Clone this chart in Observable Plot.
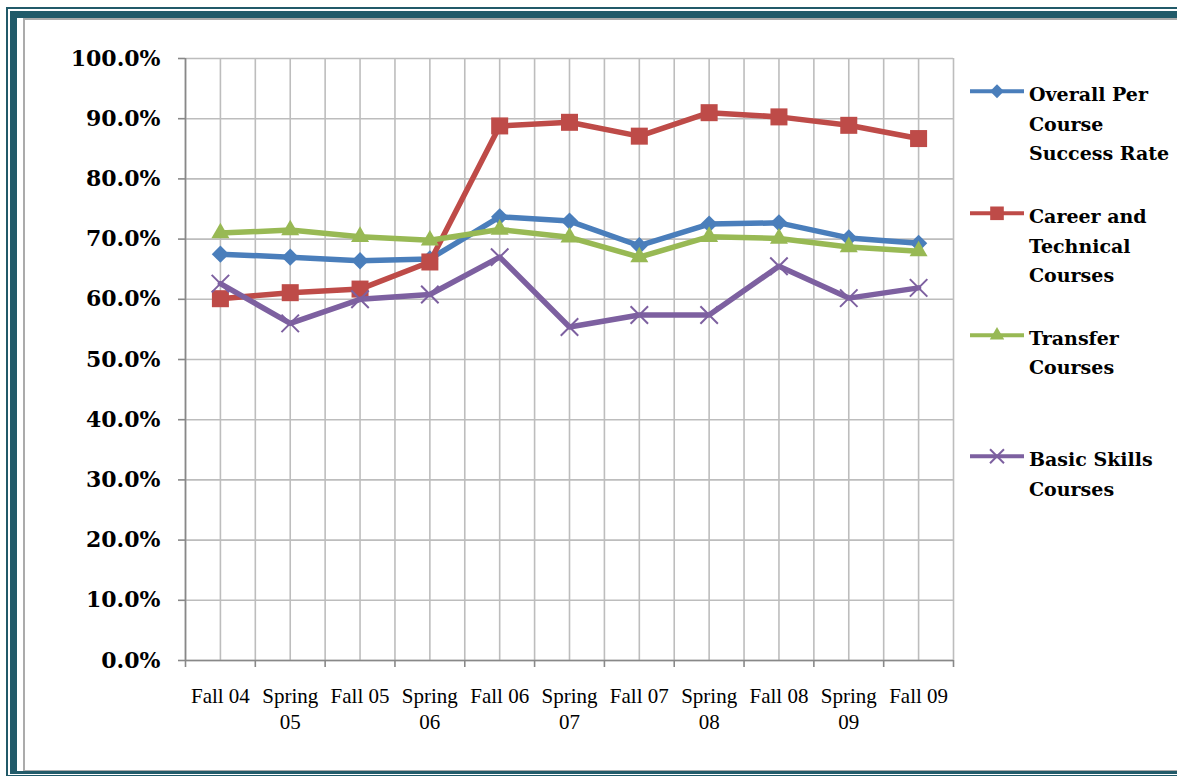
<!DOCTYPE html>
<html>
<head>
<meta charset="utf-8">
<script src="https://cdn.jsdelivr.net/npm/d3@7"></script>
<script src="https://cdn.jsdelivr.net/npm/@observablehq/plot@0.6"></script>
<style>
html, body { margin: 0; padding: 0; background: #fff; }
#page { position: relative; width: 1177px; height: 776px; overflow: hidden; background: #fff; }
#chart { position: absolute; left: 0; top: 0; }
.frame { position: absolute; box-sizing: border-box; }
#f1 { left: 6px; top: 7px; width: 1300px; height: 770px; border: 2px solid #215a69; }
#f2 { left: 10px; top: 11px; width: 1300px; height: 763px; border-style: solid; border-color: #215a69; border-width: 7px 0 3px 7px; }
#f3 { left: 23px; top: 18px; width: 1300px; height: 753px; border-style: solid; border-color: #ababab; border-width: 2px 0 1px 2px; }
#legend { position: absolute; left: 970px; top: 80.4px; }
.item { display: flex; align-items: flex-start; height: 121.7px; }
.item svg { display: block; flex: none; }
.label { margin-left: 5px; font-family: "DejaVu Serif", serif; font-weight: bold; font-size: 19px; line-height: 29.5px; color: #000; white-space: nowrap; }
</style>
</head>
<body>
<div id="page">
  <div id="chart"></div>
  <div class="frame" id="f1"></div>
  <div class="frame" id="f2"></div>
  <div class="frame" id="f3"></div>
  <div id="legend"></div>
</div>
<script>
const categories = ["Fall 04", "Spring 05", "Fall 05", "Spring 06", "Fall 06", "Spring 07", "Fall 07", "Spring 08", "Fall 08", "Spring 09", "Fall 09"];
const xTickLabels = ["Fall 04", "Spring\n05", "Fall 05", "Spring\n06", "Fall 06", "Spring\n07", "Fall 07", "Spring\n08", "Fall 08", "Spring\n09", "Fall 09"];
const yTicks = [0, 10, 20, 30, 40, 50, 60, 70, 80, 90, 100];

const seriesNames = ["Overall Per Course Success Rate", "Career and Technical Courses", "Transfer Courses", "Basic Skills Courses"];
const legendLabels = [["Overall Per", "Course", "Success Rate"], ["Career and", "Technical", "Courses"], ["Transfer", "Courses"], ["Basic Skills", "Courses"]];

const overall  = [67.5, 67.0, 66.4, 66.7, 73.7, 73.0, 68.9, 72.5, 72.7, 70.2, 69.3];
const career   = [60.1, 61.1, 61.7, 66.2, 88.8, 89.4, 87.1, 91.0, 90.3, 88.9, 86.7];
const transfer = [71.0, 71.5, 70.4, 69.8, 71.6, 70.3, 67.0, 70.4, 70.1, 68.7, 68.0];
const basic    = [62.6, 56.0, 60.0, 60.8, 67.0, 55.4, 57.4, 57.4, 65.5, 60.2, 61.9];

const seriesValues = [overall, career, transfer, basic];
const colors = ["#4a7ebb", "#be4b48", "#98b954", "#7d60a0"];
const symbols = ["diamond2", "square", "triangle", "times"];
const symbolR = [7.8, 9.6, 6.7, 8];

const idx = categories.map((_, i) => i);
const bounds = d3.range(categories.length + 1).map(i => i - 0.5);
const gridXs = [...bounds, ...idx];

const seriesMarks = seriesValues.flatMap((vals, k) => {
  const rows = vals.map((v, i) => ({i, v, series: seriesNames[k]}));
  const isTimes = symbols[k] === "times";
  return [
    Plot.line(rows, {x: "i", y: "v", stroke: colors[k], strokeWidth: 5.5, strokeLinejoin: "round", strokeLinecap: "round"}),
    Plot.dot(rows, {
      x: "i", y: "v", symbol: symbols[k], r: symbolR[k],
      fill: isTimes ? "none" : colors[k],
      stroke: isTimes ? colors[k] : "none",
      strokeWidth: isTimes ? 2 : 0
    })
  ];
});

const chart = Plot.plot({
  width: 1177,
  height: 776,
  marginLeft: 185,
  marginRight: 224,
  marginTop: 58,
  marginBottom: 116,
  style: {background: "transparent", overflow: "visible"},
  x: {type: "linear", domain: [-0.5, categories.length - 0.5]},
  y: {domain: [0, 100]},
  marks: [
    Plot.gridY(yTicks, {stroke: "#bdbdbd", strokeOpacity: 1, strokeWidth: 1.6}),
    Plot.gridX(gridXs, {stroke: "#bdbdbd", strokeOpacity: 1, strokeWidth: 1.6}),
    Plot.ruleY([0], {stroke: "#888", strokeWidth: 1.6}),
    Plot.ruleX([-0.5], {stroke: "#888", strokeWidth: 1.6}),
    Plot.axisY(yTicks, {
      tickSize: 7, tickPadding: 18, label: null,
      tickFormat: d => d.toFixed(1) + "%",
      fontFamily: "DejaVu Serif", fontWeight: "bold", fontSize: 22,
      fill: "#000", stroke: "#888", strokeWidth: 1.6
    }),
    Plot.axisX(bounds, {tickSize: 7, tickFormat: () => "", label: null, stroke: "#888", strokeWidth: 1.6}),
    Plot.axisX(idx, {
      tickSize: 0, tickPadding: 24, label: null,
      tickFormat: i => xTickLabels[i],
      fontFamily: "Liberation Serif", fontSize: 21, lineHeight: 1.25, fill: "#000"
    }),
    ...seriesMarks
  ]
});
document.getElementById("chart").appendChild(chart);

// Legend
const legend = d3.select("#legend");
seriesNames.forEach((name, k) => {
  const item = legend.append("div").attr("class", "item");
  const svg = item.append("svg").attr("width", 54).attr("height", 22);
  svg.append("line").attr("x1", 0).attr("x2", 54).attr("y1", 11.3).attr("y2", 11.3)
    .attr("stroke", colors[k]).attr("stroke-width", 4);
  const symMap = {diamond2: d3.symbolDiamond2, square: d3.symbolSquare, triangle: d3.symbolTriangle, times: d3.symbolTimes};
  const rr = symbolR[k] * 0.8;
  const isTimes = symbols[k] === "times";
  svg.append("path")
    .attr("d", d3.symbol(symMap[symbols[k]], Math.PI * rr * rr)())
    .attr("transform", "translate(27,11.3)")
    .attr("fill", isTimes ? "none" : colors[k])
    .attr("stroke", isTimes ? colors[k] : "none")
    .attr("stroke-width", 2);
  item.append("div").attr("class", "label").html(legendLabels[k].join("<br>"));
});
</script>
</body>
</html>
